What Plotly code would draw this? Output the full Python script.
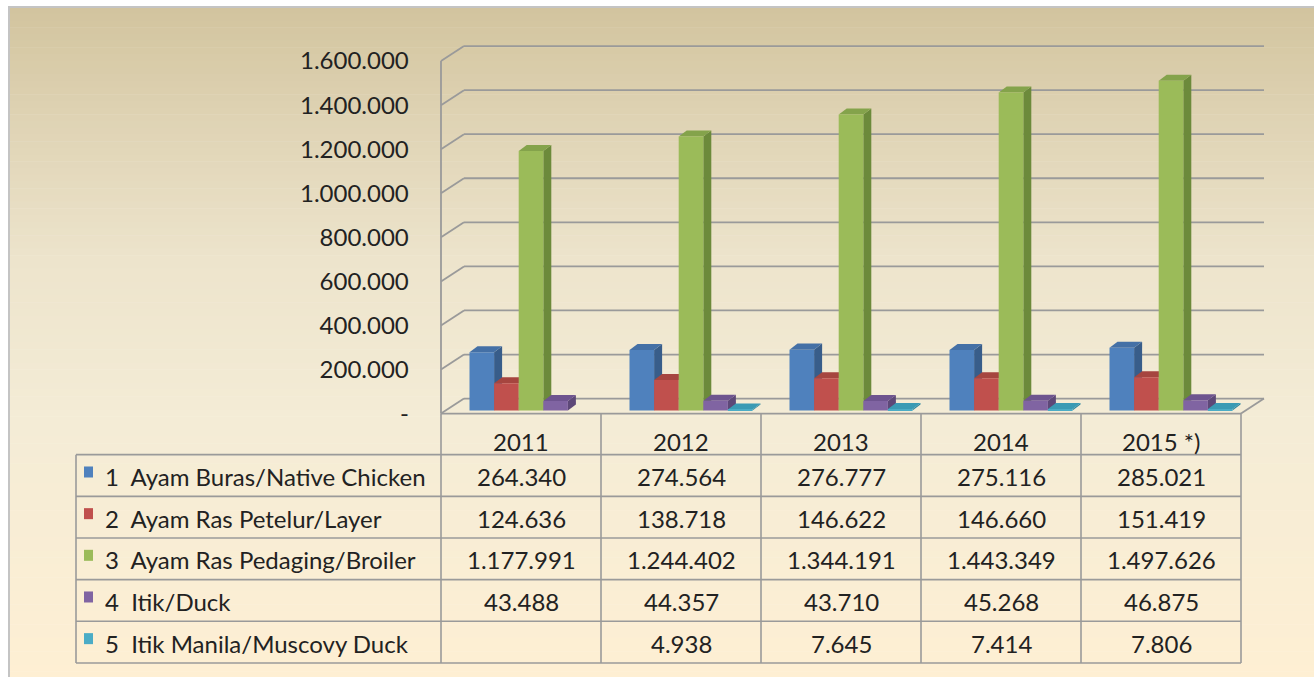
import plotly.graph_objects as go

# ---------------- data ----------------
years = ["2011", "2012", "2013", "2014", "2015 *)"]
series_names = [
    "1  Ayam Buras/Native Chicken",
    "2  Ayam Ras Petelur/Layer",
    "3  Ayam Ras Pedaging/Broiler",
    "4  Itik/Duck",
    "5  Itik Manila/Muscovy Duck",
]
native_chicken = [264340, 274564, 276777, 275116, 285021]
layer = [124636, 138718, 146622, 146660, 151419]
broiler = [1177991, 1244402, 1344191, 1443349, 1497626]
duck = [43488, 44357, 43710, 45268, 46875]
muscovy = [None, 4938, 7645, 7414, 7806]
y_ticks = [0, 200000, 400000, 600000, 800000, 1000000, 1200000, 1400000, 1600000]

series_values = [native_chicken, layer, broiler, duck, muscovy]

# ---------------- style ----------------
front_colors = ["#4f81bd", "#c0504d", "#9bbb59", "#8064a2", "#4bacc6"]
side_colors = ["#385d8a", "#8c3a37", "#6c8a3b", "#5d4878", "#2f879f"]
top_colors = ["#4470a6", "#a6453f", "#84a34b", "#6e548f", "#3a9ab4"]
FONT = "Lato, 'Open Sans', sans-serif"
TXT = "#222222"
GRID = "#9a9a9a"

W, H = 1314, 677                  # layout reference frame
FIG_H = 689                       # actual figure height (compensates page capture)
X0_PX, CAT_PX = 441, 160          # left edge of category area, px per category
ZERO_PX, PX_PER_UNIT = 413, 44 / 200000
XR = [-0.52, 4.72]
YR = [-10000, 1700000]


def xp(px):
    return px / W


def yp(py):
    return 1 - py / H


x_dom = [xp(X0_PX + (XR[0] + 0.5) * CAT_PX), xp(X0_PX + (XR[1] + 0.5) * CAT_PX)]
y_dom = [yp(ZERO_PX - YR[0] * PX_PER_UNIT), yp(ZERO_PX - YR[1] * PX_PER_UNIT)]

DX = 23 / CAT_PX                  # wall depth in x units
DY = 15 / PX_PER_UNIT             # wall depth in y units
PITCH = 24.6 / CAT_PX
SHIFT = 10 / CAT_PX
BASE = 3 / PX_PER_UNIT
BDX = 8 / CAT_PX
BDY = 6 / PX_PER_UNIT


def fmt(v):
    return f"{v:,}".replace(",", ".")


shapes = []

# background gradient (paper)
stops = [(7, (210, 196, 158)), (120, (223, 211, 180)), (260, (237, 228, 204)),
         (420, (244, 236, 214)), (677, (254, 239, 211))]


def col_at(y):
    for (ya, ca), (yb, cb) in zip(stops[:-1], stops[1:]):
        if ya <= y <= yb:
            t = (y - ya) / (yb - ya)
            return tuple(round(a + (b - a) * t) for a, b in zip(ca, cb))
    return stops[-1][1]


N = 100
step = (H - 7) / N
for k in range(N):
    y0 = 7 + k * step
    c = col_at(y0 + step / 2)
    shapes.append(dict(type="rect", xref="paper", yref="paper", layer="below",
                       x0=xp(9), x1=1.01, y0=yp(y0 + step + 0.5), y1=yp(y0),
                       line=dict(width=0), fillcolor=f"rgb{c}"))
shapes.append(dict(type="rect", xref="paper", yref="paper", layer="below",
                   x0=xp(9), x1=1.02, y0=-0.05, y1=yp(7),
                   line=dict(color="#c4c4c4", width=2), fillcolor="rgba(0,0,0,0)"))

# table grid (paper)
row_top = 454
row_h = 41.6
n_rows = len(series_names)
tbl_left = 76
cat_edges = [X0_PX + CAT_PX * i for i in range(len(years) + 1)]
line_t = dict(color=GRID, width=1.6)
for r in range(n_rows + 1):
    y = row_top + r * row_h
    shapes.append(dict(type="line", xref="paper", yref="paper", layer="below",
                       x0=xp(tbl_left), x1=xp(cat_edges[-1]), y0=yp(y), y1=yp(y), line=line_t))
shapes.append(dict(type="line", xref="paper", yref="paper", layer="below",
                   x0=xp(tbl_left), x1=xp(tbl_left), y0=yp(row_top), y1=yp(row_top + n_rows * row_h), line=line_t))
for e in cat_edges:
    shapes.append(dict(type="line", xref="paper", yref="paper", layer="below",
                       x0=xp(e), x1=xp(e), y0=yp(ZERO_PX), y1=yp(row_top + n_rows * row_h), line=line_t))

# walls (data coords)
line_w = dict(color=GRID, width=1.8)
for v in y_ticks:
    shapes.append(dict(type="line", xref="x", yref="y", layer="below",
                       x0=-0.5, x1=-0.5 + DX, y0=v, y1=v + DY, line=line_w))
    shapes.append(dict(type="line", xref="x", yref="y", layer="below",
                       x0=-0.5 + DX, x1=4.5 + DX, y0=v + DY, y1=v + DY, line=line_w))
shapes.append(dict(type="line", xref="x", yref="y", layer="below",
                   x0=-0.5, x1=-0.5, y0=0, y1=y_ticks[-1], line=line_w))
shapes.append(dict(type="line", xref="x", yref="y", layer="below",
                   x0=-0.5, x1=4.5, y0=0, y1=0, line=line_w))
shapes.append(dict(type="line", xref="x", yref="y", layer="below",
                   x0=4.5, x1=4.5 + DX, y0=0, y1=DY, line=line_w))

# bars
fig = go.Figure()
n_s = len(series_values)
for k, vals in enumerate(series_values):
    off = -n_s * PITCH / 2 + k * PITCH + SHIFT
    fig.add_trace(go.Bar(
        x=list(range(len(years))), y=vals, base=BASE, width=PITCH, offset=off,
        marker=dict(color=front_colors[k], line=dict(width=0)),
        name=series_names[k], showlegend=False,
        hovertemplate="%{y:,}<extra>" + series_names[k] + "</extra>"))
    for i, v in enumerate(vals):
        if v is None:
            continue
        x0 = i + off
        x1 = x0 + PITCH
        top = BASE + v
        shapes.append(dict(type="path", xref="x", yref="y", layer="below",
                           path=f"M {x1},{BASE} L {x1 + BDX},{BASE + BDY} L {x1 + BDX},{top + BDY} L {x1},{top} Z",
                           fillcolor=side_colors[k], line=dict(width=0)))
        shapes.append(dict(type="path", xref="x", yref="y", layer="below",
                           path=f"M {x0},{top} L {x0 + BDX},{top + BDY} L {x1 + BDX},{top + BDY} L {x1},{top} Z",
                           fillcolor=top_colors[k], line=dict(width=0)))

# table text
annotations = []
tfont = dict(family=FONT, size=24, color=TXT)
for i, yr in enumerate(years):
    annotations.append(dict(xref="paper", yref="paper", x=xp(X0_PX + CAT_PX * (i + 0.5)), y=yp(441),
                            text=yr, showarrow=False, xanchor="center", yanchor="middle", font=tfont))
for r, (name, vals) in enumerate(zip(series_names, series_values)):
    yc = row_top + (r + 0.5) * row_h
    shapes.append(dict(type="rect", xref="paper", yref="paper", layer="above",
                       x0=xp(84), x1=xp(93), y0=yp(yc + 2), y1=yp(yc - 9),
                       fillcolor=front_colors[r], line=dict(width=0)))
    annotations.append(dict(xref="paper", yref="paper", x=xp(103), y=yp(yc + 1), text=name,
                            showarrow=False, xanchor="left", yanchor="middle", font=tfont))
    for i, v in enumerate(vals):
        if v is None:
            continue
        annotations.append(dict(xref="paper", yref="paper", x=xp(X0_PX + CAT_PX * (i + 0.5)), y=yp(yc + 1),
                                text=fmt(v), showarrow=False, xanchor="center", yanchor="middle", font=tfont))

fig.update_layout(
    width=W, height=FIG_H, margin=dict(l=0, r=0, t=0, b=0),
    paper_bgcolor="white", plot_bgcolor="rgba(0,0,0,0)",
    barmode="overlay", shapes=shapes, annotations=annotations,
    xaxis=dict(domain=x_dom, range=XR, visible=False, fixedrange=True),
    yaxis=dict(domain=y_dom, range=YR, showgrid=False, zeroline=False, showline=False,
               tickvals=y_ticks, ticktext=["-"] + [fmt(v) for v in y_ticks[1:]],
               ticks="", ticklabelstandoff=28, tickfont=dict(family=FONT, size=24, color=TXT),
               fixedrange=True),
    font=dict(family=FONT),
)

fig.write_html("out.html", config={"displayModeBar": False},
               post_script="document.body.style.margin='0';document.body.style.overflow='hidden';")
